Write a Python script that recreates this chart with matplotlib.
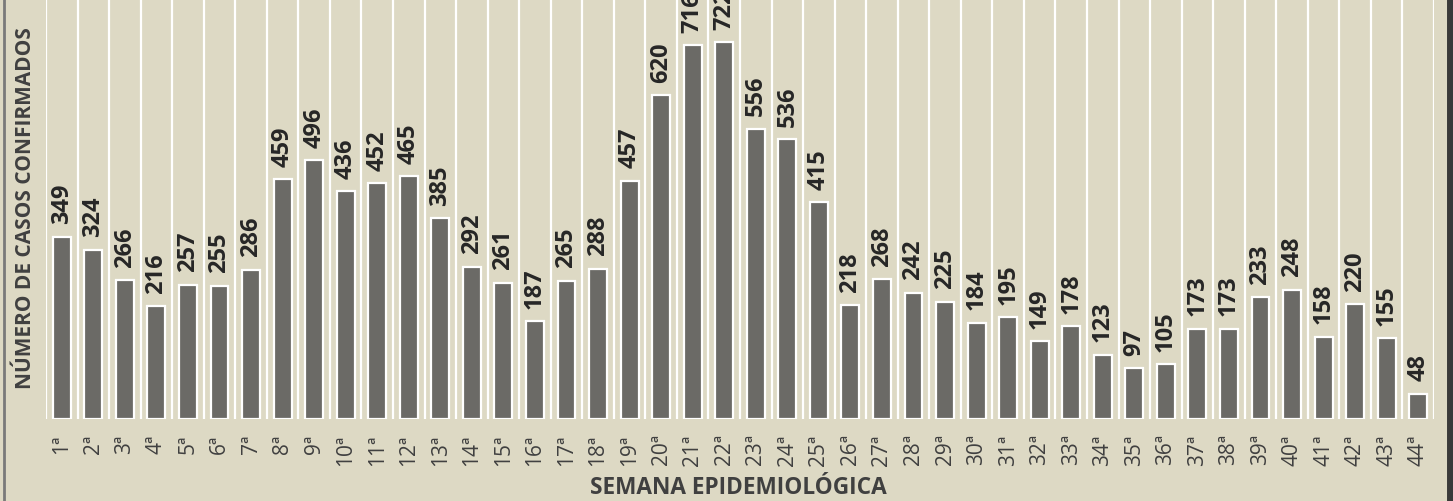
import numpy as np
import matplotlib
matplotlib.use("Agg")
import matplotlib.pyplot as plt
from matplotlib.lines import Line2D

plt.rcParams['font.family'] = ['Open Sans', 'DejaVu Sans']

# casos confirmados por semana epidemiologica
semanas = [str(i) + 'ª' for i in range(1, 45)]
casos = [349, 324, 266, 216, 257, 255, 286, 459, 496, 436, 452, 465, 385, 292,
         261, 187, 265, 288, 457, 620, 716, 722, 556, 536, 415, 218, 268, 242,
         225, 184, 195, 149, 178, 123, 97, 105, 173, 173, 233, 248, 158, 220,
         155, 48]

bg = '#DDD9C4'
barColor = '#6B6A66'
textColor = '#404040'

fig = plt.figure(figsize=(14.53, 5.01), dpi=100)
fig.patch.set_facecolor(bg)

W, H = 1453.0, 501.0
ax = fig.add_axes([46 / W, (H - 419) / H, (1434 - 46) / W, 419 / H])
ax.set_facecolor(bg)

x = np.arange(len(casos))
ax.bar(x, casos, width=0.57, color=barColor, edgecolor='white', linewidth=1.6, zorder=3)

# white separators between weeks
for b in np.arange(len(casos) + 1) - 0.5:
    ax.axvline(b, color='white', linewidth=1.6, zorder=1)

for xi, v in zip(x, casos):
    ax.annotate(str(v), (xi, v), xytext=(0, 9), textcoords='offset points',
                rotation=90, ha='center', va='bottom', fontsize=17,
                fontweight='bold', color='#262626', annotation_clip=False)

ax.set_xlim(-0.5, len(casos) - 0.5)
ax.set_ylim(0, 803)
ax.set_xticks(x)
ax.set_xticklabels(semanas, rotation=90, fontsize=15, color=textColor)
ax.tick_params(axis='x', length=0, pad=11)
ax.set_yticks([])
for s in ax.spines.values():
    s.set_visible(False)

fig.text(738 / W, 1 - 488 / H, 'SEMANA EPIDEMIOLÓGICA', ha='center', va='center',
         fontsize=16.3, fontweight='bold', color=textColor)
fig.text(26 / W, 1 - 208 / H, 'NÚMERO DE CASOS CONFIRMADOS', ha='center', va='center',
         rotation=90, fontsize=15, fontweight='bold', color=textColor)

# frame lines at the sides
fig.add_artist(Line2D([3.5 / W, 3.5 / W], [0, 1], color='#7A7A7A', linewidth=2))
fig.add_artist(Line2D([1450 / W, 1450 / W], [0, 1], color='#3A3A3A', linewidth=5))

fig.savefig('out.png', dpi=100, facecolor=bg)
